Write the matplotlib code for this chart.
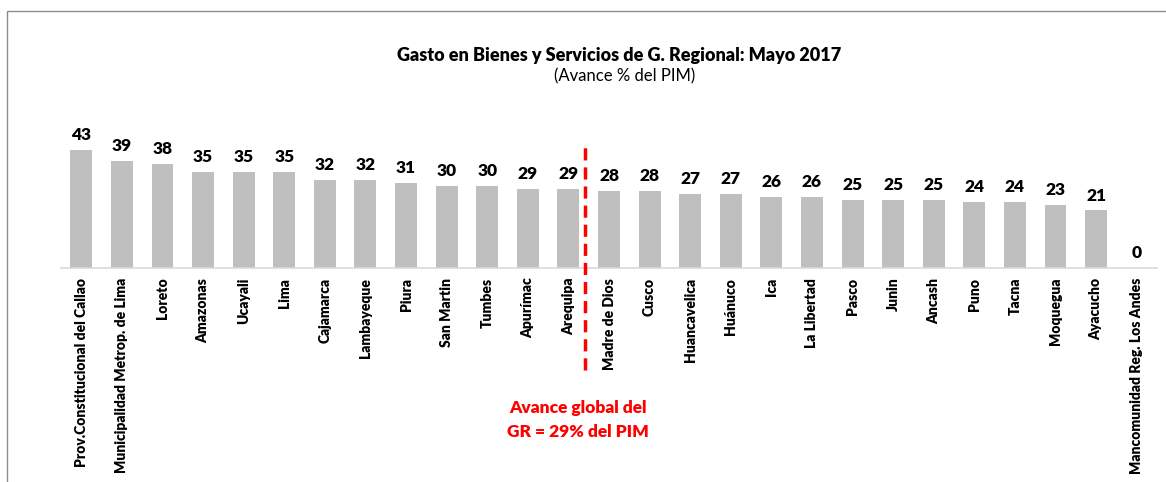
import matplotlib
matplotlib.use("Agg")
import matplotlib.pyplot as plt
from matplotlib.patches import Rectangle

# datos
regiones = ["Prov.Constitucional del Callao", "Municipalidad Metrop. de Lima", "Loreto",
            "Amazonas", "Ucayali", "Lima", "Cajamarca", "Lambayeque", "Piura",
            "San Martin", "Tumbes", "Apurímac", "Arequipa", "Madre de Dios", "Cusco",
            "Huancavelica", "Huánuco", "Ica", "La Libertad", "Pasco", "Junin", "Ancash",
            "Puno", "Tacna", "Moquegua", "Ayacucho", "Mancomunidad Reg. Los Andes"]
avance = [43, 39, 38, 35, 35, 35, 32, 32, 31, 30, 30, 29, 29, 28, 28, 27, 27,
          26, 26, 25, 25, 25, 24, 24, 23, 21, 0]
avance_global = 29

plt.rcParams['font.family'] = ['Lato', 'DejaVu Sans']

fig = plt.figure(figsize=(11.66, 4.82), dpi=100)
ax = fig.add_axes([61/1166, 214/482, 1096/1166, 137/482])

x = range(len(regiones))
ax.bar(x, avance, width=0.54, color='#BFBFBF', zorder=2)
ax.set_xlim(-0.5, len(regiones) - 0.5)
ax.set_ylim(0, 50)

# etiquetas de valor
for i, v in enumerate(avance):
    ax.annotate(f"{v}", (i, v), xytext=(0, 5), textcoords='offset points',
                ha='center', va='bottom', fontsize=12.5, fontweight='heavy')

# ejes
for s in ['top', 'right', 'left']:
    ax.spines[s].set_visible(False)
ax.spines['bottom'].set_color('#D9D9D9')
ax.spines['bottom'].set_linewidth(1.2)
ax.set_yticks([])
ax.set_xticks(list(x))
ax.set_xticklabels(regiones, rotation=90, fontsize=10, fontweight='heavy', va='top')
ax.tick_params(axis='x', length=0, pad=7)

# linea de avance global
ax.axvline(12.42, ymin=-0.745, ymax=0.883, color='#FF0000', linestyle=(0, (3.5, 2)),
           linewidth=2.5, clip_on=False, zorder=3)
fig.text(578/1166, 1 - 420/482, f"Avance global del\nGR = {avance_global}% del PIM",
         ha='center', va='center', color='#FF0000', fontsize=12.5, fontweight='heavy',
         linespacing=1.6)

# titulos
fig.text(619/1166, 1 - 55/482, "Gasto en Bienes y Servicios de G. Regional: Mayo 2017",
         ha='center', va='center', fontsize=13, fontweight='heavy')
fig.text(625/1166, 1 - 76/482, "(Avance % del PIM)", ha='center', va='center', fontsize=12)

# marco
fig.patches.append(Rectangle((7/1166, -0.2), 1.2, 1.2 - 11/482, transform=fig.transFigure,
                             fill=False, edgecolor='#8C8C8C', linewidth=1))

fig.savefig("out.png", dpi=100)
